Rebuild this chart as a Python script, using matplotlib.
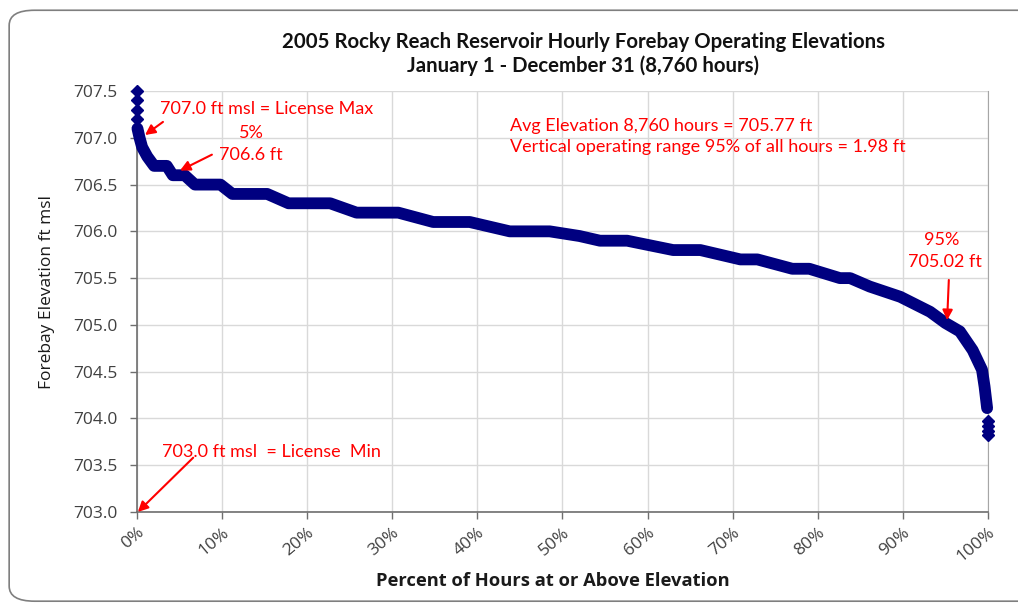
"""Rocky Reach reservoir forebay elevation exceedance curve, 2005."""

import matplotlib

matplotlib.use("Agg")

import matplotlib.pyplot as plt
from matplotlib.patches import FancyBboxPatch
from matplotlib.ticker import FuncFormatter, MultipleLocator

NAVY = "#000080"
RED = "#ff0000"
GRID = "#d9d9d9"

# percent of hours at or above elevation
CURVE_PERCENT = [0.05, 0.3, 0.6, 1.2, 2.0, 3.5, 4.2, 5.6, 6.8, 9.8, 11.2, 15.3, 17.8, 22.7, 25.8, 30.7, 34.8, 39.1,
                 43.8, 48.5, 52.0, 54.4, 57.6, 63.0, 66.2, 70.9, 72.9, 77.0, 79.0, 82.6, 83.8, 86.1, 89.7, 93.2, 95.0,
                 96.7, 98.2, 99.3, 99.6, 99.9]
CURVE_ELEVATION = [707.1, 707.0, 706.9, 706.8, 706.7, 706.7, 706.6, 706.6, 706.5, 706.5, 706.4, 706.4, 706.3, 706.3,
                   706.2, 706.2, 706.1, 706.1, 706.0, 706.0, 705.95, 705.9, 705.9, 705.8, 705.8, 705.7, 705.7, 705.6,
                   705.6, 705.5, 705.5, 705.41, 705.3, 705.14, 705.02, 704.93, 704.73, 704.52, 704.34, 704.11]
# isolated extreme hours at both ends
TOP_PERCENT = [0.0, 0.0, 0.0, 0.0]
TOP_ELEVATION = [707.5, 707.4, 707.3, 707.2]
BOTTOM_PERCENT = [100.0, 100.0, 100.0, 100.0]
BOTTOM_ELEVATION = [703.97, 703.92, 703.87, 703.82]

TITLE = "2005 Rocky Reach Reservoir Hourly Forebay Operating Elevations\nJanuary 1 - December 31 (8,760 hours)"
X_LABEL = "Percent of Hours at or Above Elevation"
Y_LABEL = "Forebay Elevation ft msl"

TITLE_FONT = ["Liberation Sans Narrow", "Lato", "DejaVu Sans"]
TEXT_FONT = ["Lato", "DejaVu Sans"]
TICK_FONT = ["Open Sans", "DejaVu Sans"]


def main():
    """Draws the chart and saves it."""
    figure = plt.figure(figsize=(10.18, 6.03), dpi=100)
    figure.patches.append(FancyBboxPatch((0.009, 0.003), 1.2, 0.98, boxstyle="round,pad=0,rounding_size=0.025",
                                         transform=figure.transFigure, facecolor="white", edgecolor="#7f7f7f",
                                         linewidth=1.2, figure=figure, zorder=-5))
    axes = figure.add_axes((0.1346, 0.151, 0.8359, 0.698))
    setup_axes(axes)
    draw_curve(axes)
    draw_annotations(axes)
    figure.text(0.573, 0.91, TITLE, ha="center", va="center", fontsize=14.7, fontweight="bold", family=TITLE_FONT,
                linespacing=1.2, color="#111111")
    figure.text(0.543, 0.037, X_LABEL, ha="center", va="center", fontsize=13.2, fontweight="bold", family=TICK_FONT,
                color="#1a1a1a")
    figure.text(0.046, 0.516, Y_LABEL, ha="center", va="center", rotation=90, fontsize=12.5, family=TICK_FONT,
                color="#1a1a1a")
    figure.savefig("out.png", dpi=100)


def setup_axes(axes):
    """Sets limits, ticks, grid and spines."""
    axes.set_xlim(0, 100)
    axes.set_ylim(703.0, 707.5)
    axes.xaxis.set_major_locator(MultipleLocator(10))
    axes.yaxis.set_major_locator(MultipleLocator(0.5))
    axes.xaxis.set_major_formatter(FuncFormatter(lambda value, _: f"{value:.0f}%"))
    axes.yaxis.set_major_formatter(FuncFormatter(lambda value, _: f"{value:.1f}"))
    axes.grid(True, color=GRID, linewidth=1)
    axes.set_axisbelow(True)
    for side in ("left", "bottom"):
        axes.spines[side].set_color("#6e6e6e")
        axes.spines[side].set_linewidth(1.2)
    axes.spines["right"].set_color("#a6a6a6")
    axes.spines["top"].set_visible(False)
    axes.tick_params(colors="#6e6e6e", length=5, width=1)
    axes.tick_params(axis="y", labelcolor="#404040", labelsize=12.5, pad=9)
    axes.tick_params(axis="x", labelcolor="#404040", labelsize=12.5, pad=4)
    for label in axes.get_xticklabels():
        label.set_rotation(40)
        label.set_ha("right")
        label.set_rotation_mode("anchor")
        label.set_family(TICK_FONT)
    for label in axes.get_yticklabels():
        label.set_family(TICK_FONT)


def draw_curve(axes):
    """Draws the exceedance curve as a thick band of diamond markers."""
    axes.plot(CURVE_PERCENT, CURVE_ELEVATION, color=NAVY, linewidth=8.5, solid_capstyle="round",
              solid_joinstyle="round", clip_on=False, zorder=3)
    for percent, elevation in ((TOP_PERCENT, TOP_ELEVATION), (BOTTOM_PERCENT, BOTTOM_ELEVATION)):
        axes.plot(percent, elevation, linestyle="none", marker="D", markersize=6, color=NAVY, clip_on=False,
                  zorder=3)


def draw_annotations(axes):
    """Draws the red notes and arrows."""
    text_style = dict(color=RED, fontsize=13, family=TEXT_FONT, va="center")
    arrow_style = dict(arrowstyle="-|>", color=RED, linewidth=1.5, mutation_scale=15, shrinkA=0, shrinkB=0)
    axes.text(2.7, 707.31, "707.0 ft msl = License Max", ha="left", **text_style)
    axes.annotate("", xy=(0.94, 707.03), xytext=(3.05, 707.17), arrowprops=arrow_style)
    axes.text(13.5, 707.05, "5%", ha="center", **text_style)
    axes.text(13.4, 706.82, "706.6 ft", ha="center", **text_style)
    axes.annotate("", xy=(5.05, 706.65), xytext=(8.8, 706.82), arrowprops=arrow_style)
    axes.text(43.8, 707.13, "Avg Elevation 8,760 hours = 705.77 ft", ha="left", **text_style)
    axes.text(43.8, 706.9, "Vertical operating range 95% of all hours = 1.98 ft", ha="left", **text_style)
    axes.text(94.6, 705.91, "95%", ha="center", **text_style)
    axes.text(94.9, 705.67, "705.02 ft", ha="center", **text_style)
    axes.annotate("", xy=(95.2, 705.05), xytext=(95.4, 705.48), arrowprops=arrow_style)
    axes.text(2.9, 703.64, "703.0 ft msl  = License  Min", ha="left", **text_style)
    axes.annotate("", xy=(0.1, 703.0), xytext=(6.6, 703.58), arrowprops=arrow_style)


if __name__ == "__main__":
    main()
